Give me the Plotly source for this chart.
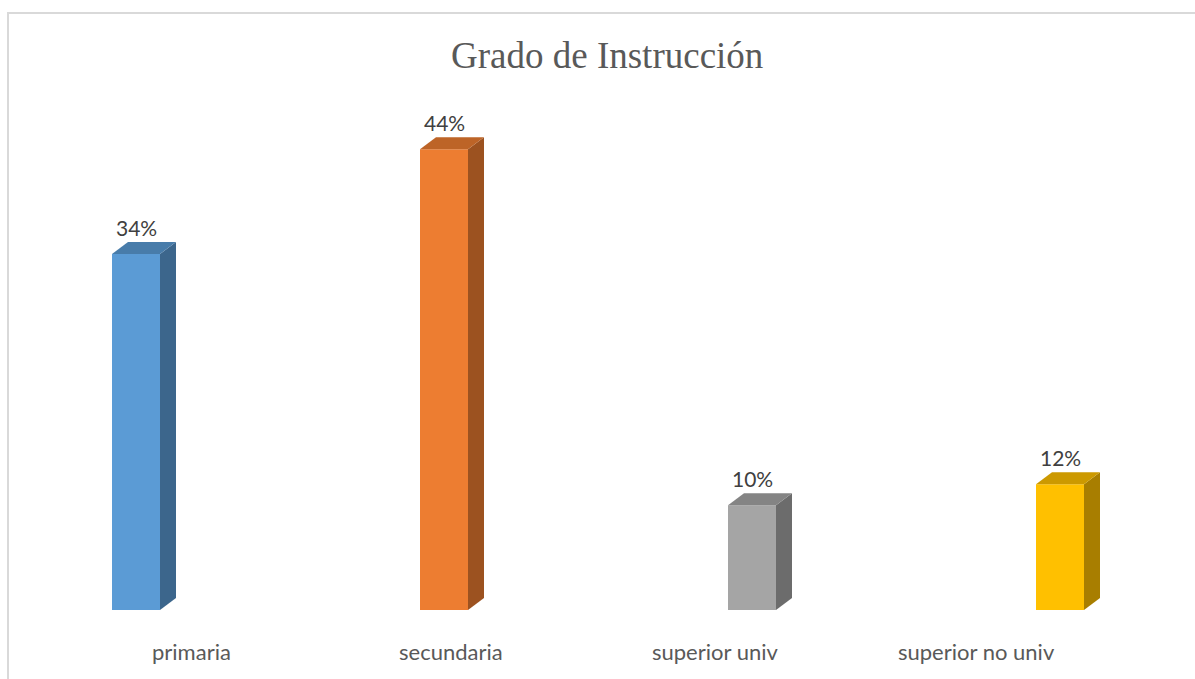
import plotly.graph_objects as go

# ---- data ----
categories = ["primaria", "secundaria", "superior univ", "superior no univ"]
values = [34, 44, 10, 12]
value_labels = ["34%", "44%", "10%", "12%"]
front_colors = ["#5B9BD5", "#ED7D31", "#A5A5A5", "#FFC000"]
title_text = "Grado de Instrucción"

# ---- styling / geometry constants ----
W, H = 1195, 679
PX_PER_CAT = 308.0
PX_PER_VAL = 10.47
BAR_W = 48 / PX_PER_CAT
DEPTH_X = 16 / PX_PER_CAT
DEPTH_Y = 12 / PX_PER_VAL
label_xshift = [55, 7, -37, -84]


def shade(hexcol, f):
    h = hexcol.lstrip("#")
    r, g, b = (int(h[i:i + 2], 16) for i in (0, 2, 4))
    return "#%02X%02X%02X" % (int(r * f), int(g * f), int(b * f))


xs = list(range(len(categories)))
fig = go.Figure()

fig.add_trace(go.Bar(
    x=xs, y=values, width=BAR_W,
    marker=dict(color=front_colors, line=dict(width=0)),
    hoverinfo="skip", showlegend=False,
))

for i, v, c in zip(xs, values, front_colors):
    xr = i + BAR_W / 2
    xl = i - BAR_W / 2
    # side face
    fig.add_trace(go.Scatter(
        x=[xr, xr + DEPTH_X, xr + DEPTH_X, xr, xr],
        y=[0, DEPTH_Y, v + DEPTH_Y, v, 0],
        fill="toself", fillcolor=shade(c, 0.66), mode="lines",
        line=dict(width=0, color=shade(c, 0.66)),
        hoverinfo="skip", showlegend=False,
    ))
    # top face
    fig.add_trace(go.Scatter(
        x=[xl, xl + DEPTH_X, xr + DEPTH_X, xr, xl],
        y=[v, v + DEPTH_Y, v + DEPTH_Y, v, v],
        fill="toself", fillcolor=shade(c, 0.8), mode="lines",
        line=dict(width=0, color=shade(c, 0.8)),
        hoverinfo="skip", showlegend=False,
    ))

annotations = []
for i, v, t in zip(xs, values, value_labels):
    annotations.append(dict(
        x=i, y=v, xref="x", yref="y", text=t, showarrow=False,
        yanchor="middle", yshift=27,
        font=dict(family="Lato", size=21, color="#404040"),
    ))
for i, cat, xs_ in zip(xs, categories, label_xshift):
    annotations.append(dict(
        x=i, y=0, xref="x", yref="y", text=cat, showarrow=False,
        yanchor="middle", yshift=-41, xshift=xs_,
        font=dict(family="Lato", size=22, color="#595959"),
    ))
annotations.append(dict(
    x=607 / W, y=1 - 55 / H, xref="paper", yref="paper", text=title_text,
    showarrow=False, xanchor="center", yanchor="middle",
    font=dict(family="Liberation Serif", size=37, color="#595959"),
))

x0 = -136 / PX_PER_CAT
y0 = -(H - 610) / PX_PER_VAL
fig.update_layout(
    width=W, height=H,
    margin=dict(l=0, r=0, t=0, b=0),
    paper_bgcolor="white", plot_bgcolor="white",
    xaxis=dict(range=[x0, x0 + W / PX_PER_CAT], visible=False, fixedrange=True),
    yaxis=dict(range=[y0, y0 + H / PX_PER_VAL], visible=False, fixedrange=True),
    annotations=annotations,
    shapes=[dict(
        type="rect", xref="paper", yref="paper",
        x0=8 / W, x1=1.02, y0=-0.02, y1=1 - 13 / H,
        line=dict(color="#D9D9D9", width=2), layer="below",
    )],
    showlegend=False,
)

fig.write_html(
    "out.html",
    config={"displayModeBar": False, "staticPlot": True},
    post_script="document.body.style.margin='0';document.body.style.overflow='hidden';",
)
